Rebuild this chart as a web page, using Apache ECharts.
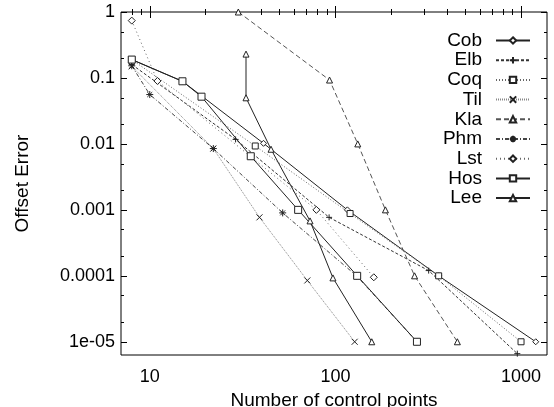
<!DOCTYPE html>
<html>
<head>
<meta charset="utf-8">
<title>Offset Error vs Number of control points</title>
<script src="https://cdn.jsdelivr.net/npm/echarts@6/dist/echarts.min.js"></script>
<style>
  html, body { margin: 0; padding: 0; background: #fff; }
  #chart { width: 554px; height: 407px; }
</style>
</head>
<body>
<div id="chart"></div>
<script>
// data (x = number of control points, y = offset error)
var cobX = [8, 15, 41, 116, 360, 1200];
var cobY = [0.19, 0.089, 0.0102, 0.001, 0.0001, 0.00001];
var elbX = [8, 29, 92.5, 318, 955];
var elbY = [0.16, 0.0117, 0.00077, 0.00012, 0.0000066];
var coqX = [8, 37, 120, 360, 1000];
var coqY = [0.19, 0.0093, 0.00088, 0.0001, 0.00001];
var tilX = [8, 22, 39, 70.6, 127];
var tilY = [0.15, 0.0085, 0.00077, 0.000085, 0.00001];
var klaX = [30, 93, 132, 186, 267, 454];
var klaY = [1.0, 0.093, 0.01, 0.001, 0.0001, 0.00001];
var phmX = [8, 10, 22, 52, 130, 275];
var phmY = [0.153, 0.056, 0.0085, 0.0009, 0.0001, 0.00001];
var lstX = [8, 11, 79, 161];
var lstY = [0.74, 0.09, 0.001, 0.000095];
var hosX = [8, 15, 19, 35, 63, 131, 275];
var hosY = [0.19, 0.089, 0.052, 0.0065, 0.001, 0.0001, 0.00001];
var leeX = [33, 33, 45, 73, 97, 157];
var leeY = [0.23, 0.05, 0.0083, 0.00068, 0.000093, 0.00001];

var xTicks = [10, 100, 1000];
var xTickLabels = ['10', '100', '1000'];
var xMinorTicks = [8, 9, 20, 30, 40, 50, 60, 70, 80, 90, 200, 300, 400, 500, 600, 700, 800, 900];
var yTicks = [1, 0.1, 0.01, 0.001, 0.0001, 0.00001];
var yTickLabels = ['1', '0.1', '0.01', '0.001', '0.0001', '1e-05'];
var yMinorTicks = [0.5, 0.2, 0.05, 0.02, 0.005, 0.002, 0.0005, 0.0002, 0.00005, 0.00002, 0.000005];

var xMin = 7, xMax = 1380;
var yMin = 0.0000063, yMax = 1;

var lg = Math.log10;
function pts(xs, ys) {
  return xs.map(function (x, i) { return [lg(x), lg(ys[i])]; });
}
function labelFor(ticks, labels) {
  return function (v) {
    for (var i = 0; i < ticks.length; i++) {
      if (Math.abs(lg(ticks[i]) - v) < 1e-6) return labels[i];
    }
    return '';
  };
}

var FONT = 'Liberation Sans';
var PLUS = 'path://M0,4H8M4,0V8';
var CROSS = 'path://M0,0L8,8M8,0L0,8';
var STAR = 'path://M0,4H8M4,0V8M1.2,1.2L6.8,6.8M6.8,1.2L1.2,6.8';

function mkX(pos, ticks, len, labels) {
  return {
    type: 'value', position: pos, min: lg(xMin), max: lg(xMax),
    axisLine: { show: false },
    splitLine: { show: false },
    axisTick: { show: true, inside: true, length: len, customValues: ticks.map(lg),
      lineStyle: { color: '#000', width: 1 } },
    axisLabel: labels ? {
      show: true, customValues: xTicks.map(lg), formatter: labelFor(xTicks, xTickLabels),
      margin: 13, fontFamily: FONT, fontSize: 18, color: '#000'
    } : { show: false }
  };
}
function mkY(pos, ticks, len, labels) {
  return {
    type: 'value', position: pos, min: lg(yMin), max: lg(yMax),
    axisLine: { show: false },
    splitLine: { show: false },
    axisTick: { show: true, inside: true, length: len, customValues: ticks.map(lg),
      lineStyle: { color: '#000', width: 1 } },
    axisLabel: labels ? {
      show: true, customValues: yTicks.map(lg), formatter: labelFor(yTicks, yTickLabels),
      margin: 6, fontFamily: FONT, fontSize: 18, color: '#000'
    } : { show: false }
  };
}

var xAxes = [mkX('bottom', xTicks, 6, true), mkX('bottom', xMinorTicks, 3),
             mkX('top', xTicks, 6), mkX('top', xMinorTicks, 3)];
xAxes[0].name = 'Number of control points';
xAxes[0].nameLocation = 'middle';
xAxes[0].nameGap = 32;
xAxes[0].nameTextStyle = { fontFamily: FONT, fontSize: 19, color: '#000' };

var yAxes = [mkY('left', yTicks, 6, true), mkY('left', yMinorTicks, 3),
             mkY('right', yTicks, 6), mkY('right', yMinorTicks, 3)];
yAxes[0].name = 'Offset Error';
yAxes[0].nameLocation = 'middle';
yAxes[0].nameGap = 89;
yAxes[0].nameTextStyle = { fontFamily: FONT, fontSize: 19, color: '#000' };

function line(name, xs, ys, symbol, size, type, color) {
  return {
    name: name, type: 'line', xAxisIndex: 0, yAxisIndex: 0,
    data: pts(xs, ys),
    symbol: symbol, symbolSize: size,
    showAllSymbol: true,
    lineStyle: { color: color, width: 1, type: type },
    itemStyle: { color: '#fff', borderColor: '#222', borderWidth: 1 },
    emphasis: { disabled: true },
    clip: false
  };
}

var series = [
  line('Cob', cobX, cobY, 'diamond', 6, 'solid', '#222'),
  line('Elb', elbX, elbY, PLUS, 6, [3, 2], '#333'),
  line('Coq', coqX, coqY, 'rect', 6, [1, 2], '#666'),
  line('Til', tilX, tilY, CROSS, 6, [1, 1], '#888'),
  line('Kla', klaX, klaY, 'triangle', 6, [5, 3], '#555'),
  line('Phm', phmX, phmY, STAR, 7, [4, 2, 1, 2], '#444'),
  line('Lst', lstX, lstY, 'diamond', 7, [1, 3], '#666'),
  line('Hos', hosX, hosY, 'rect', 7, 'solid', '#222'),
  line('Lee', leeX, leeY, 'triangle', 6, 'solid', '#222')
];

var chart = echarts.init(document.getElementById('chart'), null, { renderer: 'canvas' });
chart.setOption({
  animation: false,
  backgroundColor: '#fff',
  grid: { left: 121, right: 7, top: 12, bottom: 52, show: true, borderColor: '#000', borderWidth: 1,
    containLabel: false, outerBoundsMode: 'none' },
  legend: {
    orient: 'vertical', align: 'right', right: 23, top: 31, padding: 0,
    itemWidth: 34, itemHeight: 8, itemGap: 0.7,
    selectedMode: false,
    textStyle: { fontFamily: FONT, fontSize: 19, color: '#000', padding: [0, 9, 0, 0] },
    data: series.map(function (s) { return s.name; })
  },
  xAxis: xAxes,
  yAxis: yAxes,
  series: series
});
</script>
</body>
</html>
